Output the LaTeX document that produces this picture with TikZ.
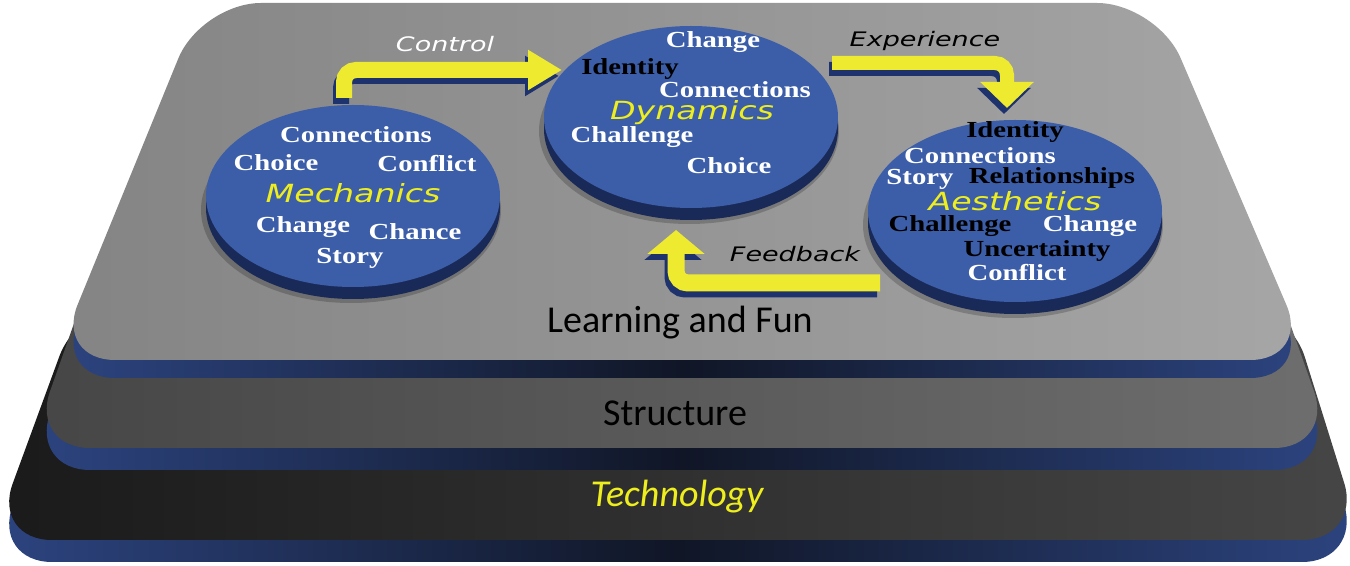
\documentclass[tikz,border=0pt]{standalone}
\usepackage{fontspec}
\setmainfont{Liberation Serif}
\newfontfamily\wideserif{Liberation Serif}[FakeStretch=1.25]
\newfontfamily\djv{DejaVu Sans}[FakeStretch=1.33]
\newfontfamily\djvlab{DejaVu Sans}[FakeStretch=1.35]
\newfontfamily\carl{Carlito}
\usetikzlibrary{arrows.meta,shapes.geometric}
\definecolor{discblue}{RGB}{60,94,168}
\definecolor{discedge}{RGB}{26,42,88}
\definecolor{rimblue}{RGB}{44,68,128}
\definecolor{rimdark}{RGB}{16,22,38}
\definecolor{ylw}{RGB}{238,234,48}
\definecolor{arrowshadow}{RGB}{30,50,110}
\definecolor{txtylw}{RGB}{238,238,30}
\definecolor{topA}{RGB}{132,132,132}
\definecolor{topB}{RGB}{166,166,166}
\definecolor{strA}{RGB}{70,70,70}
\definecolor{strB}{RGB}{110,110,110}
\definecolor{tecA}{RGB}{26,26,26}
\definecolor{tecB}{RGB}{70,70,70}
\tikzset{
  discface/.style={ellipse, fill=discblue, inner sep=0pt, minimum width=147pt, minimum height=91pt},
  discrim/.style={ellipse, fill=discedge, inner sep=0pt, minimum width=147pt, minimum height=91pt},
  discshadow/.style={ellipse, fill=black, opacity=0.2, inner sep=0pt, minimum width=150pt, minimum height=93pt},
  wword/.style={text=white, font=\wideserif\fontsize{11.5}{12}\selectfont\bfseries, inner sep=0pt},
  bword/.style={text=black, font=\wideserif\fontsize{11.5}{12}\selectfont\bfseries, inner sep=0pt},
  title/.style={text=txtylw, font=\djv\itshape\fontsize{12.5}{13}\selectfont, inner sep=0pt},
  flowlabel/.style={font=\djvlab\itshape\fontsize{10}{11}\selectfont, inner sep=0pt},
  layerlabel/.style={font=\carl\fontsize{19}{20}\selectfont, inner sep=0pt},
  rim/.style={left color=rimblue, right color=rimblue, middle color=rimdark, rounded corners=30pt},
  face/.style={rounded corners=30pt},
  yarrow/.style={draw=ylw, line width=#1, rounded corners=6pt},
  sarrow/.style={draw=arrowshadow, line width=#1, rounded corners=6pt, transform canvas={shift={(-1.5pt,-3pt)}}},
}
\begin{document}
\begin{tikzpicture}[x=0.5pt,y=-0.5pt]
\useasboundingbox (0,0) rectangle (1350,566);
% Technology layer
\shade[rim] (80,322) -- (1287,322) -- (1362,562) -- (-8,562) -- cycle;
\shade[face, left color=tecA, right color=tecB] (80,300) -- (1287,300) -- (1362,540) -- (-8,540) -- cycle;
% Structure layer
\shade[rim] (107,252) -- (1257,252) -- (1334,470) -- (30,470) -- cycle;
\shade[face, left color=strA, right color=strB] (107,230) -- (1257,230) -- (1334,448) -- (30,448) -- cycle;
% Top layer
\shade[rim] (201,21) -- (1157,21) -- (1310,378) -- (55,378) -- cycle;
\shade[face, left color=topA, right color=topB] (201,3) -- (1157,3) -- (1310,360) -- (55,360) -- cycle;

\node[layerlabel] (lf) at (680,323) {Learning and Fun};
\node[layerlabel] (st) at (675,413) {Structure};
\node[layerlabel, text=txtylw, font=\carl\itshape\fontsize{19}{20}\selectfont] (te) at (677,497) {Technology};

% Discs
\node[discshadow] (mechS) at (351,210) {};
\node[discrim] (mechR) at (353,208) {};
\node[discface] (mech) at (353,196) {};
\node[discshadow] (dynS) at (689,131) {};
\node[discrim] (dynR) at (691,129) {};
\node[discface] (dyn) at (691,117) {};
\node[discshadow] (aesS) at (1013,225) {};
\node[discrim] (aesR) at (1015,223) {};
\node[discface] (aes) at (1015,211) {};

% Mechanics words
\node[wword] (m1) at (356,135) {Connections};
\node[wword] (m2) at (276,163) {Choice};
\node[wword] (m3) at (427,164) {Conflict};
\node[title] (m0) at (353,193) {Mechanics};
\node[wword] (m4) at (303,227) {Change};
\node[wword] (m5) at (415,232) {Chance};
\node[wword] (m6) at (350,258) {Story};

% Dynamics words
\node[wword] (d1) at (713,42) {Change};
\node[bword] (d2) at (630,69) {Identity};
\node[wword] (d3) at (735,90) {Connections};
\node[title] (d0) at (692,113) {Dynamics};
\node[wword] (d4) at (632,137) {Challenge};
\node[wword] (d5) at (729,166) {Choice};

% Aesthetics words
\node[bword] (a1) at (1015,132) {Identity};
\node[wword] (a2) at (980,156) {Connections};
\node[wword] (a3) at (920,179) {Story};
\node[bword] (a4) at (1052,178) {Relationships};
\node[title] (a0) at (1015,201) {Aesthetics};
\node[bword] (a5) at (950,226) {Challenge};
\node[wword] (a6) at (1090,226) {Change};
\node[bword] (a7) at (1037,251) {Uncertainty};
\node[wword] (a8) at (1017,273) {Conflict};

% Arrows
\coordinate (cS) at (344,98);
\coordinate (cE) at (562,70);
\coordinate (eS) at (832,63);
\coordinate (eE) at (1007,108);
\coordinate (fS) at (880,283);
\coordinate (fE) at (676,230);
\draw[sarrow=8pt, -{Triangle[width=19pt,length=17pt]}] (cS) |- (cE);
\draw[yarrow=8pt, -{Triangle[width=19pt,length=17pt]}] (cS) |- (cE);
\draw[sarrow=7pt, -{Triangle[width=26pt,length=13pt]}] (eS) -| (eE);
\draw[yarrow=7pt, -{Triangle[width=26pt,length=13pt]}] (eS) -| (eE);
\draw[sarrow=8.5pt, -{Triangle[width=28pt,length=12pt]}] (fS) -| (fE);
\draw[yarrow=8.5pt, -{Triangle[width=28pt,length=12pt]}] (fS) -| (fE);

\node[flowlabel, text=white] (lc) at (445,44) {Control};
\node[flowlabel, text=black] (le) at (925,41) {Experience};
\node[flowlabel, text=black] (lfb) at (795,254) {Feedback};
\end{tikzpicture}
\end{document}
